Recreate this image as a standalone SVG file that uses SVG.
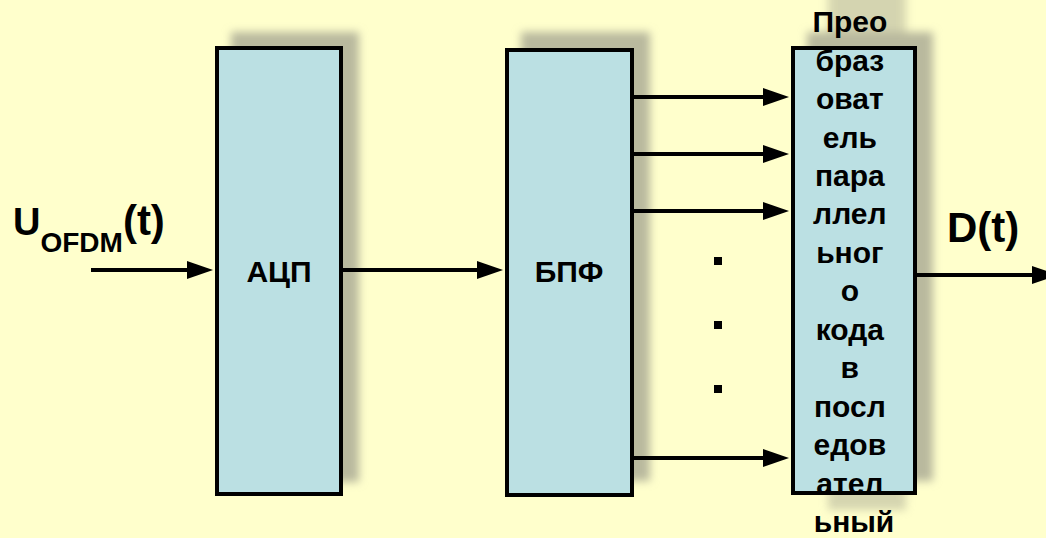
<svg xmlns="http://www.w3.org/2000/svg" width="1046" height="538" viewBox="0 0 1046 538">
<style>
.bg{fill:#FFFFCC}
.box{fill:#BBE0E3;stroke:#000;stroke-width:4}
.shadow{fill:#B9B99E;filter:url(#blur)}
.t{font-family:"Liberation Sans",Arial,sans-serif;font-weight:bold;fill:#000}
.c{text-anchor:middle}
.wire{stroke:#000;stroke-width:4;fill:none;marker-end:url(#ah)}
.dot{fill:#000}
</style>
<defs>
<filter id="blur" x="-20%" y="-20%" width="140%" height="140%"><feGaussianBlur stdDeviation="4"/></filter>
<marker id="ah" markerUnits="userSpaceOnUse" markerWidth="26" markerHeight="18" refX="6" refY="9" orient="auto" overflow="visible">
<path d="M0,0 L26,9 L0,18 Z" fill="#000"/>
</marker>
</defs>
<rect class="bg" x="0" y="0" width="1046" height="538"/>
<g id="adc">
<rect class="shadow" x="231" y="32" width="128" height="450"/>
<rect class="box" x="217" y="48" width="124" height="446"/>
<text class="t c" x="279" y="282" font-size="30">АЦП</text>
</g>
<g id="fft">
<rect class="shadow" x="521" y="32" width="129" height="449"/>
<rect class="box" x="507" y="50" width="125" height="445"/>
<text class="t c" x="569" y="282" font-size="30">БПФ</text>
</g>
<g id="ps">
<rect class="shadow" x="828" y="-12" width="78" height="522" opacity="0.6"/>
<rect class="shadow" x="807" y="32" width="126" height="449"/>
<rect class="box" x="793" y="48" width="122" height="445"/>
<text class="t c" font-size="30">
<tspan x="854" y="32">Прео</tspan>
<tspan x="854" y="71">браз</tspan>
<tspan x="854" y="109">оват</tspan>
<tspan x="854" y="148">ель</tspan>
<tspan x="854" y="186">пара</tspan>
<tspan x="854" y="224">ллел</tspan>
<tspan x="854" y="263">ьног</tspan>
<tspan x="854" y="301">о</tspan>
<tspan x="854" y="340">кода</tspan>
<tspan x="854" y="378">в</tspan>
<tspan x="854" y="417">посл</tspan>
<tspan x="854" y="455">едов</tspan>
<tspan x="854" y="494">ател</tspan>
<tspan x="854" y="532">ьный</tspan>
</text>
</g>
<g id="input-label">
<text class="t" x="13" y="235" font-size="38">U<tspan font-size="28" dy="17">OFDM</tspan><tspan font-size="42" dy="-17">(t)</tspan></text>
</g>
<g id="output-label">
<text class="t" x="947" y="242" font-size="42">D(t)</text>
</g>
<g id="dots">
<rect class="dot" x="714" y="257" width="8" height="8"/>
<rect class="dot" x="714" y="321" width="8" height="8"/>
<rect class="dot" x="714" y="385" width="8" height="8"/>
</g>
<g id="connectors">
<line class="wire" x1="91" y1="270" x2="193" y2="270"/>
<line class="wire" x1="343" y1="270" x2="483" y2="270"/>
<line class="wire" x1="634" y1="97" x2="769" y2="97"/>
<line class="wire" x1="634" y1="154" x2="769" y2="154"/>
<line class="wire" x1="634" y1="211" x2="769" y2="211"/>
<line class="wire" x1="634" y1="458" x2="769" y2="458"/>
<line class="wire" x1="917" y1="275" x2="1038" y2="275"/>
</g>
</svg>
